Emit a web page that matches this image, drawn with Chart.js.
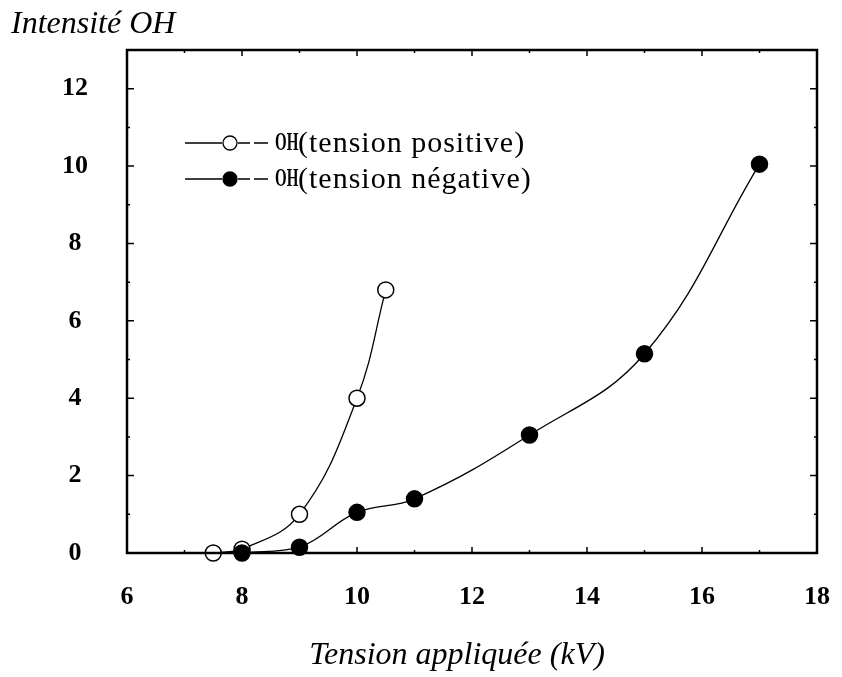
<!DOCTYPE html>
<html>
<head>
<meta charset="utf-8">
<script src="https://cdn.jsdelivr.net/npm/chart.js@4.4.1/dist/chart.umd.min.js"></script>
<style>
  html, body { margin: 0; padding: 0; background: #fff; }
  #wrap { width: 842px; height: 677px; position: relative; }
</style>
</head>
<body>
<div id="wrap"><canvas id="ohChart" width="842" height="677"></canvas></div>
<script>
// Données
const positiveX = [7.5, 8, 9, 10, 10.5];
const positiveY = [0, 0.1, 1.0, 4.0, 6.8];
const negativeX = [8, 9, 10, 11, 13, 15, 17];
const negativeY = [0, 0.15, 1.05, 1.4, 3.05, 5.15, 10.05];
const xTicks = [6, 8, 10, 12, 14, 16, 18];
const yTicks = [0, 2, 4, 6, 8, 10, 12];
const legendLabels = ['(tension positive)', '(tension négative)'];

const SERIF = '"Liberation Serif", "Times New Roman", serif';

function toPoints(xs, ys) {
    return xs.map((x, i) => ({ x: x, y: ys[i] }));
}

// Cadre, petites graduations internes, légende et titres d'axes
const decorPlugin = {
    id: 'decor',
    afterDraw(chart) {
        const ctx = chart.ctx;
        const a = chart.chartArea;
        const xs = chart.scales.x;
        const ys = chart.scales.y;
        ctx.save();
        ctx.strokeStyle = '#000';
        ctx.lineWidth = 2.5;
        ctx.strokeRect(a.left, a.top, a.right - a.left, a.bottom - a.top);

        // graduations
        ctx.lineWidth = 1.5;
        for (let v = 6; v <= 18; v += 1) {
            const px = xs.getPixelForValue(v);
            const len = v % 2 === 0 ? 6 : 3;
            ctx.beginPath();
            ctx.moveTo(px, a.bottom); ctx.lineTo(px, a.bottom - len);
            ctx.moveTo(px, a.top); ctx.lineTo(px, a.top + len);
            ctx.stroke();
        }
        for (let v = 0; v <= 13; v += 1) {
            const py = ys.getPixelForValue(v);
            const len = v % 2 === 0 ? 7 : 3;
            ctx.beginPath();
            ctx.moveTo(a.left, py); ctx.lineTo(a.left + len, py);
            ctx.moveTo(a.right, py); ctx.lineTo(a.right - len, py);
            ctx.stroke();
        }

        // légende
        const rows = [143, 179];
        chart.data.datasets.forEach((ds, i) => {
            const y = rows[i];
            ctx.strokeStyle = '#000';
            ctx.lineWidth = 1.3;
            ctx.beginPath();
            ctx.moveTo(185, y); ctx.lineTo(222, y);
            ctx.moveTo(238, y); ctx.lineTo(250, y);
            ctx.moveTo(254, y); ctx.lineTo(268, y);
            ctx.stroke();
            ctx.beginPath();
            ctx.arc(230, y, 7, 0, Math.PI * 2);
            ctx.fillStyle = ds.pointBackgroundColor;
            ctx.fill();
            ctx.stroke();

            ctx.fillStyle = '#000';
            ctx.textBaseline = 'middle';
            ctx.textAlign = 'left';
            ctx.save();
            ctx.translate(275, y);
            ctx.scale(0.6, 1);
            ctx.font = 'bold 25px ' + SERIF;
            ctx.fillText('OH', 0, 1);
            ctx.restore();
            ctx.font = '30px ' + SERIF;
            ctx.letterSpacing = '1px';
            ctx.fillText(legendLabels[i], 298, y + 1);
            ctx.letterSpacing = '0px';
        });

        // titres
        ctx.fillStyle = '#000';
        ctx.font = 'italic 32px ' + SERIF;
        ctx.textAlign = 'left';
        ctx.textBaseline = 'alphabetic';
        ctx.fillText('Intensité OH', 11, 33);
        ctx.textAlign = 'center';
        ctx.fillText('Tension appliquée (kV)', 457, 664);
        ctx.restore();
    }
};

const ctx = document.getElementById('ohChart').getContext('2d');

new Chart(ctx, {
    type: 'scatter',
    data: {
        datasets: [
            {
                label: 'OH (tension positive)',
                data: toPoints(positiveX, positiveY),
                showLine: true,
                borderColor: '#000',
                borderWidth: 1.3,
                pointRadius: 8,
                pointBorderWidth: 1.5,
                pointBackgroundColor: '#fff',
                pointBorderColor: '#000',
                tension: 0.4,
                clip: false,
                order: 1
            },
            {
                label: 'OH (tension négative)',
                data: toPoints(negativeX, negativeY),
                showLine: true,
                borderColor: '#000',
                borderWidth: 1.3,
                pointRadius: 8,
                pointBorderWidth: 1.5,
                pointBackgroundColor: '#000',
                pointBorderColor: '#000',
                tension: 0.4,
                clip: false,
                order: 0
            }
        ]
    },
    options: {
        responsive: false,
        animation: false,
        layout: { padding: 0 },
        plugins: {
            legend: { display: false },
            tooltip: { enabled: false }
        },
        scales: {
            x: {
                type: 'linear',
                min: 6,
                max: 18,
                afterFit: (s) => {
                    s.height = 124;
                    s.paddingLeft = 0;
                    s.paddingRight = 25;
                },
                afterBuildTicks: (s) => { s.ticks = xTicks.map(v => ({ value: v })); },
                grid: { display: false, drawTicks: false },
                border: { display: false },
                ticks: {
                    color: '#000',
                    padding: 29,
                    font: { family: SERIF, size: 26, weight: 'bold' }
                }
            },
            y: {
                type: 'linear',
                min: 0,
                max: 13,
                afterFit: (s) => {
                    s.width = 127;
                    s.paddingTop = 50;
                    s.paddingBottom = 0;
                },
                afterBuildTicks: (s) => { s.ticks = yTicks.map(v => ({ value: v })); },
                grid: { display: false, drawTicks: false },
                border: { display: false },
                ticks: {
                    color: '#000',
                    padding: 39,
                    crossAlign: 'center',
                    font: { family: SERIF, size: 26, weight: 'bold' }
                }
            }
        }
    },
    plugins: [decorPlugin]
});
</script>
</body>
</html>
